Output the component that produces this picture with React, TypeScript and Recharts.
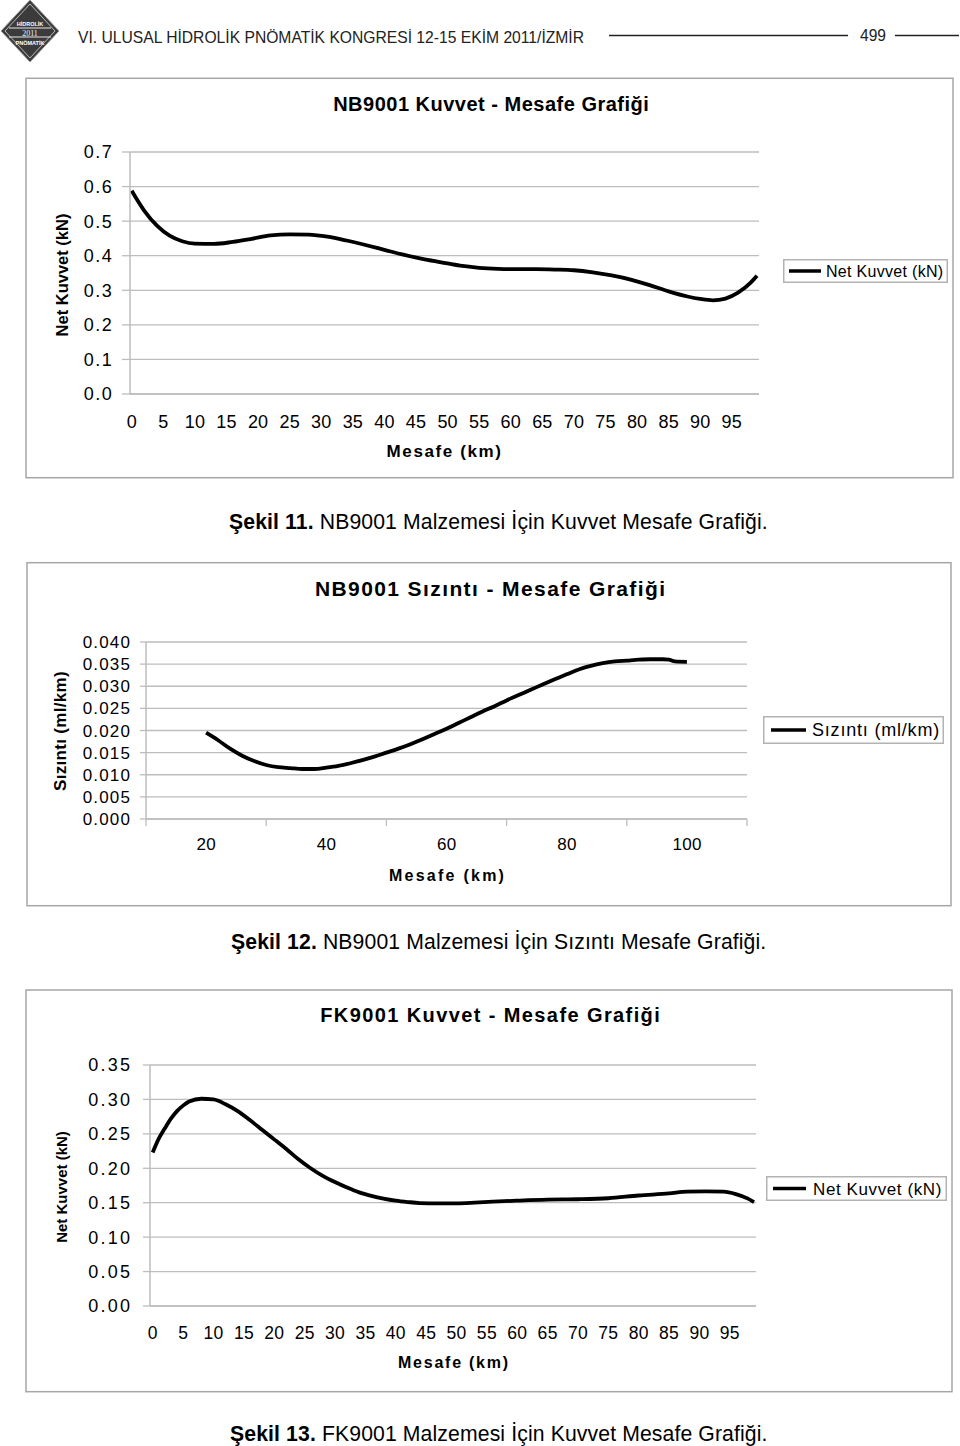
import React from 'react';
import { LineChart, Line, XAxis, YAxis, CartesianGrid, Legend } from 'recharts';

const FONT = '"Liberation Sans", Arial, Helvetica, sans-serif';
const GRID = '#bdbdbd';
const BOX = '#a6a6a6';

// ---------- Figure 11: NB9001 force vs distance ----------
const nbKm = [0, 2, 4, 6, 8, 10, 13, 16, 19, 22, 25, 28, 31, 34, 37, 40, 43, 46, 49, 52, 55, 58, 61, 64, 67, 70, 73, 76, 79, 82, 85, 88, 90, 92, 94, 96, 98, 99];
const nbForce = [0.588, 0.530, 0.487, 0.458, 0.442, 0.435, 0.434, 0.440, 0.449, 0.459, 0.462, 0.461, 0.455, 0.444, 0.431, 0.417, 0.403, 0.391, 0.381, 0.371, 0.365, 0.362, 0.361, 0.361, 0.360, 0.358, 0.352, 0.343, 0.331, 0.315, 0.297, 0.282, 0.275, 0.271, 0.276, 0.293, 0.322, 0.342];
const nbXTicks = [0, 5, 10, 15, 20, 25, 30, 35, 40, 45, 50, 55, 60, 65, 70, 75, 80, 85, 90, 95];
const nbYTicks = [0, 0.1, 0.2, 0.3, 0.4, 0.5, 0.6, 0.7];

// ---------- Figure 12: NB9001 leakage vs distance ----------
const lkKm = [20, 22, 24, 26, 28, 30, 32, 34, 36, 38, 40, 42, 44, 46, 48, 50, 52, 54, 56, 58, 60, 62, 64, 66, 68, 70, 72, 74, 76, 78, 80, 82, 84, 86, 88, 90, 92, 94, 96, 97, 98, 100];
const lkVal = [0.0195, 0.0178, 0.0159, 0.0143, 0.0131, 0.0122, 0.0117, 0.0115, 0.0113, 0.0113, 0.0116, 0.0120, 0.0126, 0.0133, 0.0141, 0.0150, 0.0159, 0.0169, 0.0180, 0.0192, 0.0204, 0.0217, 0.0230, 0.0243, 0.0255, 0.0268, 0.0280, 0.0292, 0.0304, 0.0316, 0.0327, 0.0338, 0.0346, 0.0352, 0.0356, 0.0358, 0.0360, 0.0361, 0.0361, 0.0360, 0.0356, 0.0355];
const lkXTicks = [10, 20, 30, 40, 50, 60, 70, 80, 90, 100, 110];
const lkYTicks = [0, 0.005, 0.01, 0.015, 0.02, 0.025, 0.03, 0.035, 0.04];

// ---------- Figure 13: FK9001 force vs distance ----------
const fkKm = [0, 1, 2, 3, 4, 5, 6, 8, 10, 12, 14, 16, 18, 20, 22, 24, 26, 28, 30, 32, 34, 36, 38, 40, 42, 44, 47, 50, 53, 56, 60, 65, 70, 75, 80, 85, 88, 91, 94, 96, 98, 99];
const fkVal = [0.223, 0.243, 0.258, 0.272, 0.283, 0.291, 0.297, 0.301, 0.300, 0.293, 0.283, 0.270, 0.256, 0.242, 0.228, 0.213, 0.200, 0.189, 0.180, 0.172, 0.165, 0.160, 0.156, 0.153, 0.151, 0.1495, 0.149, 0.149, 0.150, 0.1515, 0.153, 0.1545, 0.155, 0.1565, 0.1605, 0.1635, 0.166, 0.1665, 0.166, 0.1625, 0.156, 0.151];
const fkXTicks = [0, 5, 10, 15, 20, 25, 30, 35, 40, 45, 50, 55, 60, 65, 70, 75, 80, 85, 90, 95];
const fkYTicks = [0, 0.05, 0.1, 0.15, 0.2, 0.25, 0.3, 0.35];

const nbData = nbKm.map((x, i) => ({ x, v: nbForce[i] }));
const lkData = lkKm.map((x, i) => ({ x, v: lkVal[i] }));
const fkData = fkKm.map((x, i) => ({ x, v: fkVal[i] }));

const makeYTick = (fs: number, ls: number, digits: number) => (props: any) => {
  const { x, y, payload } = props;
  return (
    <text x={x + ls} y={y} dy={0.355 * fs} textAnchor="end" fontSize={fs} letterSpacing={ls} fontFamily={FONT} fill="#000">
      {Number(payload.value).toFixed(digits)}
    </text>
  );
};

const makeXTick = (fs: number, ls: number) => (props: any) => {
  const { x, y, payload } = props;
  return (
    <text x={x + ls / 2} y={y} dy={0.71 * fs} textAnchor="middle" fontSize={fs} letterSpacing={ls} fontFamily={FONT} fill="#000">
      {payload.value}
    </text>
  );
};

// leakage chart: labels centred between tick marks (category-style axis)
const LeakXTick = (props: any) => {
  const { x, y, payload } = props;
  if (payload.value % 20 === 10) {
    return <line x1={x} y1={y} x2={x} y2={y + 7} stroke={GRID} strokeWidth={1.3} />;
  }
  return (
    <text x={x + 0.2} y={y + 30.8} textAnchor="middle" fontSize={17} letterSpacing={0.3} fontFamily={FONT} fill="#000">
      {payload.value}
    </text>
  );
};

const makeLegend = (w: number, h: number, lx1: number, lx2: number, tx: number, fs: number, ls: number) => (props: any) => {
  const item = (props.payload && props.payload[0]) || { value: '', color: '#000' };
  return (
    <svg width={w} height={h} style={{ display: 'block' }}>
      <rect x={0.75} y={0.75} width={w - 1.5} height={h - 1.5} fill="#fff" stroke="#b3b3b3" strokeWidth={1.5} />
      <line x1={lx1} y1={h / 2} x2={lx2} y2={h / 2} stroke={item.color} strokeWidth={3.5} />
      <text x={tx} y={h / 2 + 0.358 * fs} fontSize={fs} letterSpacing={ls} fontFamily={FONT} fill="#000">
        {item.value}
      </text>
    </svg>
  );
};

const T = (p: any) => <text fontFamily={FONT} fill="#000" {...p} />;

const Overlay = () => (
  <svg width={960} height={1446} style={{ position: 'absolute', left: 0, top: 0 }}>
    {/* header logo */}
    <g>
      <polygon points="30,0 59,31 30,62 1,31" fill="#3b3b3b" stroke="#9a9a9a" strokeWidth={1} />
      <polygon points="30,4 55,31 30,58 5,31" fill="none" stroke="#d8d8d8" strokeWidth={0.8} />
      <line x1={9} y1={28} x2={51} y2={28} stroke="#e8e8e8" strokeWidth={1} />
      <line x1={9} y1={37} x2={51} y2={37} stroke="#e8e8e8" strokeWidth={1} />
      <text x={30} y={25.5} textAnchor="middle" fontSize={5.5} fontWeight="bold" fill="#fff" fontFamily={FONT}>HİDROLİK</text>
      <text x={30} y={35.5} textAnchor="middle" fontSize={8} fill="#eee" fontFamily="'Liberation Serif', serif">2011</text>
      <text x={30} y={44.5} textAnchor="middle" fontSize={5.5} fontWeight="bold" fill="#fff" fontFamily={FONT}>PNÖMATİK</text>
    </g>
    <text x={78} y={43} fontSize={16.5} fill="#222" textLength={506} lengthAdjust="spacingAndGlyphs" fontFamily={'"Liberation Sans Narrow", "Liberation Sans", Arial, sans-serif'}>
      VI. ULUSAL HİDROLİK PNÖMATİK KONGRESİ 12-15 EKİM 2011/İZMİR
    </text>
    <line x1={609} y1={35.5} x2={848} y2={35.5} stroke="#222" strokeWidth={1.3} />
    <text x={860} y={41} fontSize={16} fill="#222" textLength={26} lengthAdjust="spacingAndGlyphs" fontFamily={FONT}>499</text>
    <line x1={895} y1={35.5} x2={959} y2={35.5} stroke="#222" strokeWidth={1.3} />

    {/* chart boxes */}
    <rect x={26} y={78.3} width={927} height={399.4} fill="none" stroke={BOX} strokeWidth={1.5} />
    <rect x={27} y={562.7} width={924} height={343} fill="none" stroke={BOX} strokeWidth={1.5} />
    <rect x={26} y={990} width={926} height={401.7} fill="none" stroke={BOX} strokeWidth={1.5} />

    {/* chart 1 texts */}
    <T x={491.25} y={110.7} textAnchor="middle" fontSize={20} fontWeight="bold" letterSpacing={0.5}>NB9001 Kuvvet - Mesafe Grafiği</T>
    <T x={61.7} y={275} dy={0.358 * 16.5} transform="rotate(-90 61.7 275)" textAnchor="middle" fontSize={16.5} fontWeight="bold">Net Kuvvet (kN)</T>
    <T x={444.5} y={456.7} textAnchor="middle" fontSize={17} fontWeight="bold" letterSpacing={1.6}>Mesafe (km)</T>

    {/* chart 2 texts */}
    <T x={490.7} y={595.7} textAnchor="middle" fontSize={21} fontWeight="bold" letterSpacing={1.4}>NB9001 Sızıntı - Mesafe Grafiği</T>
    <T x={60} y={731} dy={0.358 * 17} transform="rotate(-90 60 731)" textAnchor="middle" fontSize={17} fontWeight="bold" letterSpacing={0.3}>Sızıntı (ml/km)</T>
    <T x={447.6} y={880.7} textAnchor="middle" fontSize={16} fontWeight="bold" letterSpacing={2.25}>Mesafe (km)</T>

    {/* chart 3 texts */}
    <T x={490.7} y={1022} textAnchor="middle" fontSize={20} fontWeight="bold" letterSpacing={1.4}>FK9001 Kuvvet - Mesafe Grafiği</T>
    <T x={61.7} y={1187} dy={0.358 * 15} transform="rotate(-90 61.7 1187)" textAnchor="middle" fontSize={15} fontWeight="bold">Net Kuvvet (kN)</T>
    <T x={453.9} y={1368} textAnchor="middle" fontSize={16} fontWeight="bold" letterSpacing={1.75}>Mesafe (km)</T>

    {/* captions */}
    <T x={229} y={528.5} fontSize={21.2} letterSpacing={0.12}><tspan fontWeight="bold">Şekil 11.</tspan> NB9001 Malzemesi İçin Kuvvet Mesafe Grafiği.</T>
    <T x={231} y={948.5} fontSize={21.2} letterSpacing={0.12}><tspan fontWeight="bold">Şekil 12.</tspan> NB9001 Malzemesi İçin Sızıntı Mesafe Grafiği.</T>
    <T x={230} y={1440.5} fontSize={21.2} letterSpacing={0.12}><tspan fontWeight="bold">Şekil 13.</tspan> FK9001 Malzemesi İçin Kuvvet Mesafe Grafiği.</T>
  </svg>
);

export default function App() {
  return (
    <div style={{ position: 'absolute', left: 0, top: 0, width: 960, height: 1446, background: '#fff', fontFamily: FONT }}>
      <Overlay />

      {/* Figure 11 */}
      <div style={{ position: 'absolute', left: 0, top: 130 }}>
        <LineChart width={960} height={340} data={nbData} margin={{ top: 22, right: 201, bottom: 0, left: 0 }}>
          <CartesianGrid vertical={false} stroke={GRID} strokeWidth={1.3} />
          <XAxis dataKey="x" type="number" domain={[0, 99]} ticks={nbXTicks} interval={0} padding={{ left: 1.7, right: 2 }}
            height={76} tickLine={false} tickSize={0} tickMargin={21.4} axisLine={{ stroke: GRID, strokeWidth: 1.3 }} tick={makeXTick(18, 0.2)} />
          <YAxis type="number" domain={[0, 0.7]} ticks={nbYTicks} interval={0} width={130} tickSize={8} tickMargin={10.3}
            tickLine={{ stroke: GRID, strokeWidth: 1.3 }} axisLine={{ stroke: GRID, strokeWidth: 1.5 }} tick={makeYTick(18, 1.5, 1)} />
          <Legend layout="horizontal" align="center" verticalAlign="middle" content={makeLegend(165, 24, 6, 38, 43, 16, 0.3)}
            wrapperStyle={{ left: 783, top: 129, width: 165, height: 24 }} />
          <Line type="monotone" dataKey="v" name="Net Kuvvet (kN)" stroke="#000" strokeWidth={3.8} dot={false} isAnimationActive={false} />
        </LineChart>
      </div>

      {/* Figure 12 */}
      <div style={{ position: 'absolute', left: 0, top: 620 }}>
        <LineChart width={960} height={280} data={lkData} margin={{ top: 22, right: 213, bottom: 0, left: 0 }}>
          <CartesianGrid vertical={false} stroke={GRID} strokeWidth={1.3} />
          <XAxis dataKey="x" type="number" domain={[10, 110]} ticks={lkXTicks} interval={0}
            height={81} tickLine={false} tickSize={0} tickMargin={0} axisLine={{ stroke: GRID, strokeWidth: 1.3 }} tick={LeakXTick} />
          <YAxis type="number" domain={[0, 0.04]} ticks={lkYTicks} interval={0} width={146} tickSize={6} tickMargin={10}
            tickLine={{ stroke: GRID, strokeWidth: 1.3 }} axisLine={{ stroke: GRID, strokeWidth: 1.5 }} tick={makeYTick(17, 1.2, 3)} />
          <Legend layout="horizontal" align="center" verticalAlign="middle" content={makeLegend(181, 28, 8, 43, 49, 18, 0.8)}
            wrapperStyle={{ left: 763, top: 96, width: 181, height: 28 }} />
          <Line type="monotone" dataKey="v" name="Sızıntı (ml/km)" stroke="#000" strokeWidth={3.8} dot={false} isAnimationActive={false} />
        </LineChart>
      </div>

      {/* Figure 13 */}
      <div style={{ position: 'absolute', left: 0, top: 1040 }}>
        <LineChart width={960} height={326} data={fkData} margin={{ top: 25, right: 204, bottom: 0, left: 0 }}>
          <CartesianGrid vertical={false} stroke={GRID} strokeWidth={1.3} />
          <XAxis dataKey="x" type="number" domain={[0, 99]} ticks={fkXTicks} interval={0} padding={{ left: 2.7, right: 2 }}
            height={60} tickLine={false} tickSize={0} tickMargin={21} axisLine={{ stroke: GRID, strokeWidth: 1.3 }} tick={makeXTick(17.5, 0.3)} />
          <YAxis type="number" domain={[0, 0.35]} ticks={fkYTicks} interval={0} width={150} tickSize={7} tickMargin={13}
            tickLine={{ stroke: GRID, strokeWidth: 1.3 }} axisLine={{ stroke: GRID, strokeWidth: 1.5 }} tick={makeYTick(18, 2.2, 2)} />
          <Legend layout="horizontal" align="center" verticalAlign="middle" content={makeLegend(181, 25, 7, 40, 47, 17, 0.6)}
            wrapperStyle={{ left: 766, top: 136, width: 181, height: 25 }} />
          <Line type="monotone" dataKey="v" name="Net Kuvvet (kN)" stroke="#000" strokeWidth={3.8} dot={false} isAnimationActive={false} />
        </LineChart>
      </div>
    </div>
  );
}
